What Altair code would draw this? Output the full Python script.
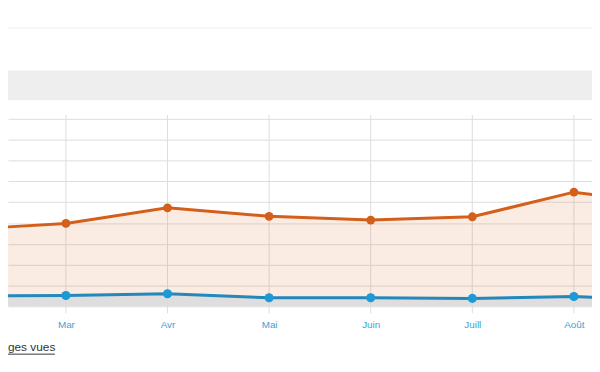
import altair as alt
import pandas as pd

# ---- data ----
months = ["Fév", "Mar", "Avr", "Mai", "Juin", "Juill", "Août", "Sept"]
month_index = [0, 1, 2, 3, 4, 5, 6, 7]
page_views = [369, 398, 473, 432, 414, 430, 548, 485]   # orange series
visitors = [50, 52, 60, 41, 41, 38, 47, 25]              # blue series
grid_values = [0, 100, 200, 300, 400, 500, 600, 700, 800, 900]
legend_label = "Pages vues"

df = pd.DataFrame({"idx": month_index, "month": months,
                   "views": page_views, "visitors": visitors})
one = pd.DataFrame({"a": [0]})

W, H = 592, 190
ORANGE = "#d35f1a"
BLUE_LINE = "#2488bb"
BLUE_PT = "#1c9ad8"
GRID = "#dddddd"

label_expr = "[" + ",".join("'%s'" % m for m in months) + "][datum.value]"

x_enc = alt.X("idx:Q",
              scale=alt.Scale(domain=[0.430, 6.178], nice=False, zero=False),
              axis=alt.Axis(values=[1, 2, 3, 4, 5, 6], labelExpr=label_expr,
                            grid=False, ticks=False, domain=False,
                            labelPadding=13, labelFontSize=10,
                            labelColor="#3f9fd3", labelFont="Liberation Sans",
                            title=None))
y_axis = alt.Axis(values=grid_values, grid=True, gridColor=GRID, gridWidth=1,
                  labels=False, ticks=False, domain=False, title=None)
y_scale = alt.Scale(domain=[0, 900], nice=False, zero=True)

top_line = alt.Chart(one).mark_rule(color="#f1f1f1", strokeWidth=1).encode(
    x=alt.value(0), x2=alt.value(W), y=alt.value(-92))
band = alt.Chart(one).mark_rect(color="#eeeeee").encode(
    x=alt.value(0), x2=alt.value(W), y=alt.value(-49), y2=alt.value(-19))

vrules = alt.Chart(df).mark_rule(color=GRID, strokeWidth=1).encode(
    x=x_enc, y=alt.value(-4), y2=alt.value(H + 7))

area_views = alt.Chart(df).mark_area(color=ORANGE, opacity=0.12, clip=True).encode(
    x=x_enc, y=alt.Y("views:Q", scale=y_scale, axis=y_axis))
area_vis = alt.Chart(df).mark_area(color="#dcdcdc", opacity=0.9, clip=True).encode(
    x=x_enc, y=alt.Y("visitors:Q", scale=y_scale, axis=y_axis))

line_views = alt.Chart(df).mark_line(color=ORANGE, strokeWidth=3, clip=True).encode(
    x=x_enc, y=alt.Y("views:Q", scale=y_scale, axis=y_axis))
line_vis = alt.Chart(df).mark_line(color=BLUE_LINE, strokeWidth=3, clip=True).encode(
    x=x_enc, y=alt.Y("visitors:Q", scale=y_scale, axis=y_axis))

pts_views = alt.Chart(df).mark_point(filled=True, size=80, opacity=1,
                                     color=ORANGE, clip=True).encode(
    x=x_enc, y=alt.Y("views:Q", scale=y_scale, axis=y_axis))
pts_vis = alt.Chart(df).mark_point(filled=True, size=85, opacity=1,
                                   color=BLUE_PT, clip=True).encode(
    x=x_enc, y=alt.Y("visitors:Q", scale=y_scale, axis=y_axis))

# legend entry, cropped on the left as in the reference
legend_text = alt.Chart(one).mark_text(
    text=legend_label, align="left", baseline="alphabetic", fontSize=12,
    font="Liberation Sans", color="#333333").encode(
    x=alt.value(-14.7), y=alt.value(235))
underline = alt.Chart(one).mark_rule(color="#333333", strokeWidth=1).encode(
    x=alt.value(-15), x2=alt.value(47.5), y=alt.value(238.5))

chart = alt.layer(
    top_line, band, vrules, area_views, area_vis,
    line_views, line_vis, pts_views, pts_vis, legend_text, underline
).properties(
    width=W, height=H,
    autosize=alt.AutoSizeParams(type="none"),
    padding={"left": 0, "right": 0, "top": 110, "bottom": 50},
    background="white",
).configure_view(stroke=None)

chart.save("out.html", embed_options={"renderer": "svg", "actions": False})
